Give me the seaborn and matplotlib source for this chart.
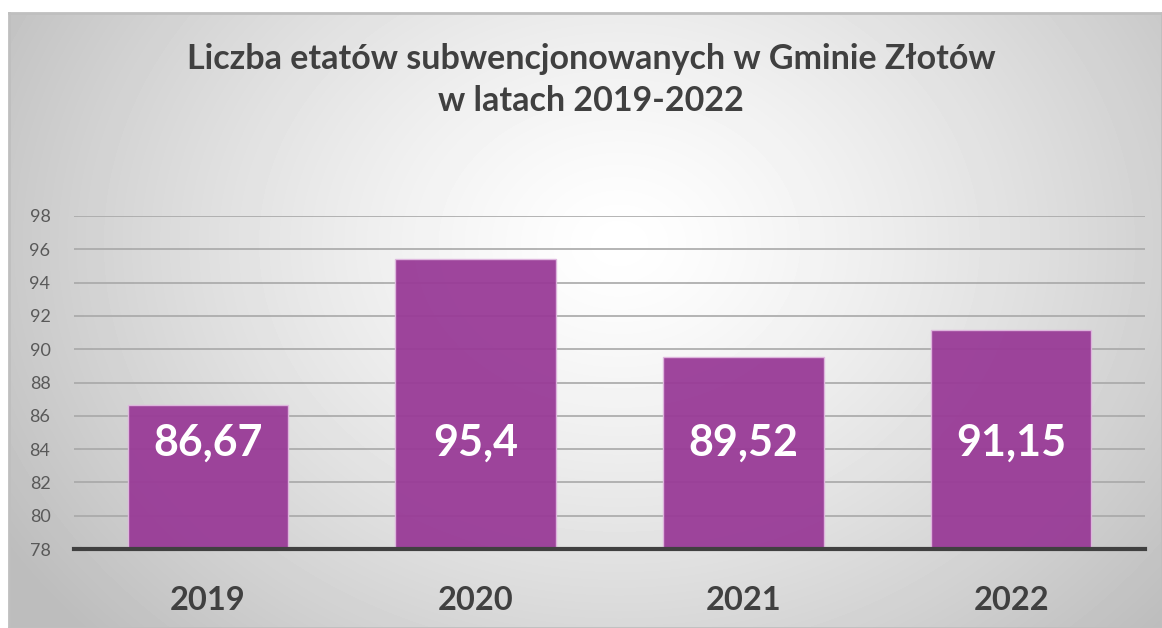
import numpy as np
import pandas as pd
import matplotlib.pyplot as plt
import seaborn as sns

# data
years = ['2019', '2020', '2021', '2022']
etaty = [86.67, 95.4, 89.52, 91.15]
labels = ['86,67', '95,4', '89,52', '91,15']
title = 'Liczba etatów subwencjonowanych w Gminie Złotów\nw latach 2019-2022'

df = pd.DataFrame({'rok': years, 'etaty': etaty})

sns.set_style('white')
plt.rcParams['font.family'] = ['Lato', 'DejaVu Sans']

fig = plt.figure(figsize=(11.62, 6.28), dpi=100)

# radial gradient background of the chart box
bg = fig.add_axes([9 / 1162, 0, 1 - 9 / 1162, 1 - 13 / 628], zorder=0)
yy, xx = np.mgrid[0:615, 0:1153]
r = np.sqrt(((xx - 610) / 700) ** 2 + ((yy - 230) / 560) ** 2)
shade = np.clip(1.0 - 0.25 * r ** 1.3, 0.74, 1.0)
bg.imshow(shade, cmap='gray', vmin=0, vmax=1, aspect='auto', interpolation='bilinear')
bg.set_xticks([])
bg.set_yticks([])
for s in bg.spines.values():
    s.set_color('#bfbfbf')
    s.set_linewidth(2)

ax = fig.add_axes([74 / 1162, 1 - 549 / 628, (1145 - 74) / 1162, (549 - 216) / 628], zorder=1)
ax.patch.set_alpha(0)

sns.barplot(data=df, x='rok', y='etaty', color='#993b97', saturation=1, width=0.6,
            alpha=0.95, edgecolor='#e0b8df', linewidth=1, ax=ax, zorder=3)

ax.set_ylim(78, 98)
ax.set_yticks(np.arange(78, 99, 2))
ax.grid(axis='y', color='#a8a8a8', linewidth=1.2, zorder=0)
ax.set_axisbelow(True)
sns.despine(ax=ax, left=True, top=True, right=True)
ax.spines['bottom'].set_color('#404040')
ax.spines['bottom'].set_linewidth(3)
ax.spines['bottom'].set_zorder(5)

ax.tick_params(axis='y', length=0, pad=17, labelsize=13, labelcolor='#595959')
ax.tick_params(axis='x', length=0, pad=27, labelsize=23.5, labelcolor='#404040')
for t in ax.get_xticklabels():
    t.set_fontweight('bold')
ax.set_xlabel('')
ax.set_ylabel('')

for i, lab in enumerate(labels):
    ax.text(i, 84.4, lab, ha='center', va='center', color='white',
            fontsize=31, fontweight='bold', zorder=6)

fig.text(591 / 1162, 1 - 80 / 628, title, ha='center', va='center',
         fontsize=24.5, fontweight='bold', color='#404040', linespacing=1.35)

fig.savefig('out.png', dpi=100)
